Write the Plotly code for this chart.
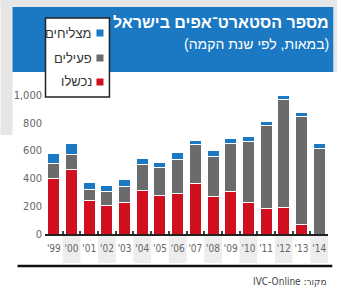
import plotly.graph_objects as go

years = ["'99", "'00", "'01", "'02", "'03", "'04", "'05", "'06",
         "'07", "'08", "'09", "'10", "'11", "'12", "'13", "'14"]
failed = [400, 465, 240, 205, 228, 316, 280, 293, 360, 268, 305, 225, 185, 192, 65, 0]
active = [105, 110, 80, 100, 117, 187, 200, 244, 287, 293, 347, 439, 599, 777, 779, 616]
success = [75, 77, 48, 47, 48, 39, 33, 48, 29, 38, 34, 36, 24, 31, 29, 36]
series_names = ["מצליחים", "פעילים", "נכשלו"]
y_ticks = [0, 200, 400, 600, 800, 1000]
y_tick_labels = ["0", "200", "400", "600", "800", "1,000"]
title = "מספר הסטארט־אפים בישראל"
subtitle = "(במאות, לפי שנת הקמה)"
source = "IVC-Online :מקור"

RED = "#d0101f"
GRAY = "#6b6b6b"
BLUE = "#1b78c2"

FW, FH = 337, 289
L, R, T, B = 44.5, 9.3, 95, 55
PW = FW - L - R
PH = FH - T - B


def xp(px):
    return (px - L) / PW


def yp(py):
    return (FH - B - py) / PH


HEB = "Liberation Sans, DejaVu Sans, sans-serif"
NUM = "Liberation Sans Narrow, DejaVu Sans Condensed, sans-serif"

fig = go.Figure()
for vals, col in [(failed, RED), (active, GRAY), (success, BLUE)]:
    fig.add_trace(go.Bar(x=years, y=vals, marker=dict(color=col, line=dict(color="white", width=1)),
                         showlegend=False, hoverinfo="skip"))

shapes = []
# surrounding light-gray page
shapes.append(dict(type="rect", xref="paper", yref="paper", x0=xp(0), x1=xp(FW), y0=yp(0), y1=yp(7),
                   fillcolor="#e6e6e6", line=dict(width=0), layer="below"))
shapes.append(dict(type="rect", xref="paper", yref="paper", x0=xp(0), x1=xp(12), y0=yp(0), y1=yp(135),
                   fillcolor="#e6e6e6", line=dict(width=0), layer="below"))
shapes.append(dict(type="rect", xref="paper", yref="paper", x0=xp(333), x1=xp(FW), y0=yp(0), y1=yp(72),
                   fillcolor="#e6e6e6", line=dict(width=0), layer="below"))
# blue header
shapes.append(dict(type="rect", xref="paper", yref="paper", x0=xp(12), x1=xp(333), y0=yp(7), y1=yp(72),
                   fillcolor=BLUE, line=dict(width=0), layer="below"))
# alternating label bands
for i in range(1, len(years), 2):
    shapes.append(dict(type="rect", xref="x", yref="paper", x0=i - 0.5, x1=i + 0.5, y0=yp(235), y1=yp(263),
                       fillcolor="#ededed", line=dict(width=0), layer="below"))
# bottom rule
shapes.append(dict(type="line", xref="paper", yref="paper", x0=xp(17), x1=xp(332), y0=yp(266), y1=yp(266),
                   line=dict(color="#111111", width=2.5)))
# legend box
shapes.append(dict(type="rect", xref="paper", yref="paper", x0=xp(45), x1=xp(109), y0=yp(18), y1=yp(97),
                   fillcolor="white", line=dict(color="#222222", width=1.5)))

annotations = []
leg_cols = [BLUE, GRAY, RED]
leg_y = [33, 58, 82]
for name, col, ly in zip(series_names, leg_cols, leg_y):
    shapes.append(dict(type="rect", xref="paper", yref="paper", x0=xp(96), x1=xp(103), y0=yp(ly - 3.5),
                       y1=yp(ly + 3.5), fillcolor=col, line=dict(width=0)))
    annotations.append(dict(xref="paper", yref="paper", x=xp(94), y=yp(ly), xanchor="right", yanchor="middle",
                            text=name, showarrow=False, font=dict(family=HEB, size=13, color="#333333")))

annotations.append(dict(xref="paper", yref="paper", x=xp(331), y=yp(23), xanchor="right", yanchor="middle",
                        text=title, showarrow=False,
                        font=dict(family=HEB, size=16, color="white", weight="bold")))
annotations.append(dict(xref="paper", yref="paper", x=xp(331), y=yp(44), xanchor="right", yanchor="middle",
                        text=subtitle, showarrow=False, font=dict(family=HEB, size=14, color="white")))
annotations.append(dict(xref="paper", yref="paper", x=xp(329), y=yp(281), xanchor="right", yanchor="middle",
                        text=source, showarrow=False, font=dict(family=NUM, size=10, color="#444444")))

fig.update_layout(
    width=FW, height=FH,
    margin=dict(l=L, r=R, t=T, b=B, pad=0, autoexpand=False),
    paper_bgcolor="white", plot_bgcolor="rgba(0,0,0,0)",
    barmode="stack", bargap=0.32,
    shapes=shapes, annotations=annotations,
    showlegend=False,
    xaxis=dict(showgrid=False, zeroline=False, showline=True, linecolor="#222222", linewidth=2,
               ticks="inside", tickson="boundaries", ticklen=3, tickcolor="#2b4a4a", tickwidth=1.5,
               tickangle=0, automargin=False, ticklabelstandoff=4,
               tickfont=dict(family=NUM, size=10, color="#666666"), fixedrange=True),
    yaxis=dict(range=[0, 1000], tickvals=y_ticks, ticktext=y_tick_labels, showgrid=False, zeroline=False,
               showline=False, ticks="", ticklabelstandoff=2, automargin=False,
               tickfont=dict(family=NUM, size=11, color="#666666"), fixedrange=True),
)

fig.write_html("out.html", config={"displayModeBar": False},
               post_script="document.body.style.margin='0';document.body.style.overflow='hidden';")
